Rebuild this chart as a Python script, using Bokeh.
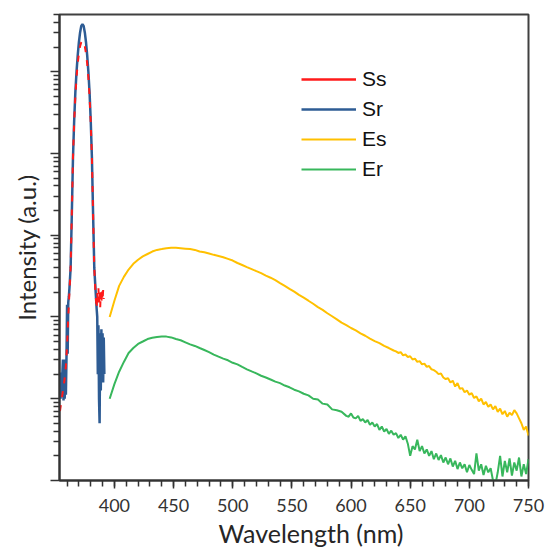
from bokeh.plotting import figure
from bokeh.models import (Range1d, FixedTicker, SingleIntervalTicker, Legend,
                          LegendItem, Title)
from bokeh.embed import file_html
from bokeh.resources import INLINE

# ---------------- data ----------------
wl_Sr = [354.0, 354.5, 355.0, 355.5, 356.0, 356.5, 357.0, 357.5, 358.0, 358.5,
         359.0, 359.5, 360.0, 360.5, 361.0, 361.5, 362.0, 363, 364, 365,
         366, 367, 368, 369, 370, 371, 372, 373, 374, 375,
         376, 377, 378, 379, 380, 381, 382, 383, 384, 385,
         385.5, 386, 386.5, 387, 387.5, 388, 388.5, 389, 389.5, 390,
         390.5, 391, 391.5]
Sr = [20.0, 10.0, 20.9, 10.5, 20.0, 30.2, 9.55, 28.2, 10.0, 30.2,
      11.2, 31.6, 141, 35.5, 151, 178, 224, 398, 1780, 8910,
      25100, 56200, 100000, 158000, 229000, 302000, 363000, 380000, 363000, 302000,
      229000, 158000, 100000, 56200, 25100, 8910, 1780, 398, 224, 126,
      100, 20.0, 79.4, 10.0, 5.01, 63.1, 12.6, 70.8, 20.0, 63.1,
      15.8, 56.2, 20.0]

wl_Ss = [354, 355, 356, 357, 358, 359, 360, 361, 362, 363,
         364, 365, 366, 367, 368, 369, 370, 371, 372, 373,
         374, 375, 376, 377, 378, 379, 380, 381, 382, 383,
         384, 385, 385.5, 386, 386.5, 387, 387.5, 388, 388.5, 389,
         389.5, 390, 390.5, 391]
Ss = [7.08, 8.91, 11.2, 14.1, 17.8, 25.1, 44.7, 100, 200, 398,
      1780, 8910, 24000, 50100, 85100, 126000, 166000, 204000, 229000, 240000,
      229000, 204000, 166000, 126000, 85100, 50100, 24000, 8910, 1780, 398,
      200, 126, 200, 141, 224, 151, 209, 132, 200, 148,
      219, 158, 214, 166]

# Es: 4 nm steps to 636 nm, then 2 nm steps (noisy tail)
wl_Es = list(range(396, 640, 4)) + list(range(638, 752, 2))
Es = [100, 158, 240, 309, 380, 447, 501, 550, 589, 631,
      661, 676, 692, 700, 700, 692, 684, 676, 661, 631,
      617, 596, 575, 556, 537, 513, 490, 457, 432, 407,
      385, 363, 343, 320, 302, 282, 260, 240, 221, 204,
      186, 172, 158, 145, 132, 122, 111, 102, 93.3, 85.1,
      79.4, 73.3, 68.4, 63.1, 58.9, 54.3, 50.7, 47.9, 44.2, 41.7,
      38.9,
      38.0, 36.3, 37.2, 33.9, 34.7, 32.4, 33.1, 30.2, 30.9, 28.2,
      28.8, 26.3, 26.9, 24.5, 25.1, 22.9, 22.4, 21.4, 20.0, 20.4,
      18.2, 17.4, 17.8, 15.8, 16.6, 14.1, 15.5, 13.2, 13.5, 12.0,
      12.6, 11.2, 11.7, 10.2, 10.7, 9.33, 10.0, 8.51, 9.12, 7.94,
      8.51, 7.41, 8.13, 6.92, 7.59, 6.46, 7.08, 6.03, 6.76, 6.31,
      7.24, 6.61, 5.75, 5.01, 4.17, 4.57, 3.55]

# Er: 4 nm steps to 596 nm, then 2 nm steps (noisy tail)
wl_Er = list(range(396, 600, 4)) + list(range(598, 752, 2))
Er = [10.0, 15.1, 21.4, 28.2, 36.3, 41.7, 46.8, 50.1, 53.7, 55.6,
      56.9, 57.5, 57.5, 56.2, 53.7, 51.9, 49.0, 46.2, 44.2, 41.7,
      39.4, 37.2, 34.7, 32.7, 30.9, 29.5, 27.5, 26.3, 24.5, 22.9,
      21.6, 20.4, 19.1, 18.2, 17.2, 16.2, 15.5, 14.5, 13.8, 12.9,
      12.3, 11.5, 11.0, 10.0, 9.77, 8.71, 8.51, 7.41, 7.24, 6.92,
      6.17,
      6.03, 6.61, 5.89, 5.75, 6.17, 5.37, 5.62, 5.13, 5.50, 4.79,
      5.13, 4.57, 4.90, 4.17, 4.57, 3.98, 4.27, 3.72, 4.07, 3.63,
      3.80, 3.31, 3.63, 3.16, 3.47, 2.82, 2.00, 2.63, 2.40, 3.16,
      2.29, 2.63, 2.14, 2.40, 2.00, 2.29, 1.82, 2.14, 1.78, 2.04,
      1.66, 1.91, 1.58, 1.86, 1.48, 1.74, 1.38, 1.66, 1.41, 1.58,
      1.26, 1.55, 1.35, 1.20, 2.14, 1.32, 1.58, 1.17, 1.51, 1.26,
      1.41, 1.00, 0.89, 1.26, 2.00, 1.12, 1.74, 1.26, 1.86, 1.15,
      1.66, 1.32, 1.91, 1.12, 1.58, 1.20, 1.82]

labels = ["Ss", "Sr", "Es", "Er"]
colors = ["#FF1A1A", "#2E5C94", "#FFC000", "#38B75C"]

y_major = [1, 10, 100, 1000, 10000, 100000]
y_minor = [m * d for d in y_major for m in range(2, 10)]

# ---------------- figure ----------------
p = figure(width=545, height=548, y_axis_type="log",
           x_range=Range1d(353.6, 750), y_range=Range1d(1, 5.0e5),
           output_backend="svg", toolbar_location=None,
           min_border_left=59, min_border_right=17,
           min_border_top=14, min_border_bottom=67)
p.grid.visible = False
p.outline_line_color = "#404040"
p.outline_line_width = 2
p.background_fill_color = "white"
p.border_fill_color = "white"

# x axis
xa = p.xaxis[0]
xa.ticker = SingleIntervalTicker(interval=50, num_minor_ticks=5)
xa.axis_line_color = "#333333"
xa.axis_line_width = 2
xa.major_tick_line_color = "#333333"
xa.minor_tick_line_color = "#333333"
xa.major_tick_line_width = 1.5
xa.minor_tick_line_width = 1.5
xa.major_tick_out = 8
xa.major_tick_in = 0
xa.minor_tick_out = 6
xa.minor_tick_in = 0
xa.major_label_text_font = "Lato"
xa.major_label_text_font_size = "18px"
xa.major_label_text_color = "#333333"
xa.major_label_standoff = 10

# x axis title, placed as a below-panel title (left offset matches reference)
p.add_layout(Title(text="Wavelength (nm)", align="left", offset=159,
                   standoff=2, text_font="Lato", text_font_size="25px",
                   text_font_style="normal", text_color="#262626"), "below")

# y axis (tick marks only, labels invisible)
ya = p.yaxis[0]
ya.ticker = FixedTicker(ticks=y_major, minor_ticks=y_minor)
ya.axis_line_color = "#333333"
ya.axis_line_width = 2
ya.major_tick_line_color = "#333333"
ya.minor_tick_line_color = "#333333"
ya.major_tick_line_width = 1.5
ya.minor_tick_line_width = 1.5
ya.major_tick_out = 9
ya.major_tick_in = 0
ya.minor_tick_out = 6
ya.minor_tick_in = 0
ya.major_label_text_font_size = "1px"
ya.major_label_text_alpha = 0
ya.major_label_standoff = 0
ya.axis_label = "Intensity (a.u.)"
ya.axis_label_text_font = "Lato"
ya.axis_label_text_font_style = "normal"
ya.axis_label_text_font_size = "24px"
ya.axis_label_text_color = "#262626"
ya.axis_label_standoff = 10

# ---------------- data lines ----------------
r_es = p.line(wl_Es, Es, line_color=colors[2], line_width=2)
r_er = p.line(wl_Er, Er, line_color=colors[3], line_width=2)
r_sr = p.line(wl_Sr, Sr, line_color=colors[1], line_width=2.5)
r_ss = p.line(wl_Ss, Ss, line_color=colors[0], line_width=2, line_dash="6 8")
# solid red swatch for the legend (a one-point line draws nothing in the plot)
r_ss_key = p.line(wl_Ss[:1], Ss[:1], line_color=colors[0], line_width=2.5)

legend = Legend(items=[LegendItem(label=labels[0], renderers=[r_ss_key]),
                       LegendItem(label=labels[1], renderers=[r_sr]),
                       LegendItem(label=labels[2], renderers=[r_es]),
                       LegendItem(label=labels[3], renderers=[r_er])],
                location=(242, 299), padding=0, margin=0, spacing=6,
                glyph_width=55, glyph_height=20, label_height=20,
                label_standoff=6, label_text_font="Liberation Sans",
                label_text_font_size="21px", label_text_color="#111111",
                border_line_alpha=0, background_fill_alpha=0)
p.add_layout(legend)

open("out.html", "w").write(file_html(p, INLINE))
